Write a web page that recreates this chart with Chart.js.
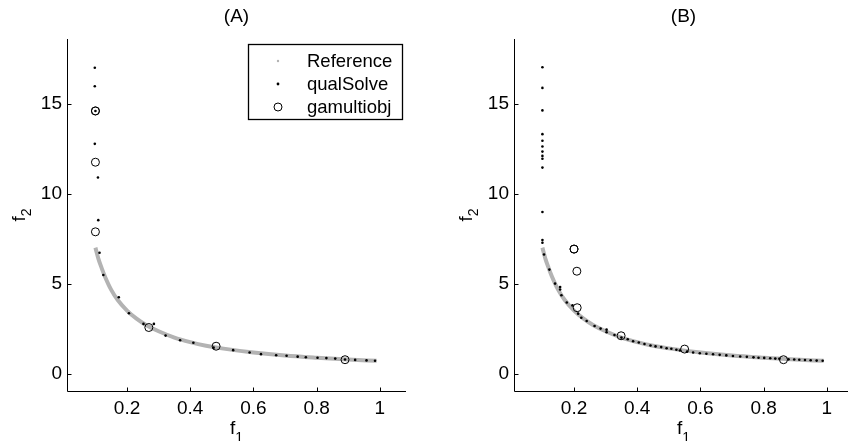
<!DOCTYPE html>
<html>
<head>
<meta charset="utf-8">
<script src="https://cdn.jsdelivr.net/npm/chart.js@4.4.0/dist/chart.umd.min.js"></script>
<style>
  html, body { margin: 0; padding: 0; background: #fff; overflow: hidden; }
  #wrap { position: relative; width: 848px; height: 441px; overflow: hidden; }
  .panel { position: absolute; top: 0; width: 424px; height: 441px; }
</style>
</head>
<body>
<div id="wrap">
  <div class="panel" style="left:0"><canvas id="panelA" width="424" height="441"></canvas></div>
  <div class="panel" style="left:447px"><canvas id="panelB" width="424" height="441"></canvas></div>
</div>
<script>
// true Pareto front (same for both panels)
var refF1 = [0.1, 0.11, 0.12, 0.13, 0.15, 0.17, 0.2, 0.23, 0.26, 0.3, 0.35, 0.4, 0.45, 0.5, 0.6, 0.7, 0.8, 0.9, 0.99];
var refF2 = [7.0, 6.35, 5.85, 5.4, 4.65, 4.1, 3.5, 3.05, 2.7, 2.35, 2.0, 1.75, 1.55, 1.4, 1.17, 1.0, 0.88, 0.78, 0.71];

// panel (A)
var qualA_f1 = [0.098, 0.098, 0.1, 0.098, 0.108, 0.109, 0.113, 0.125, 0.174, 0.206, 0.252, 0.285, 0.322, 0.368, 0.41,
                0.474, 0.536, 0.588, 0.624, 0.672, 0.705, 0.74, 0.766, 0.803, 0.831, 0.859, 0.89, 0.922, 0.958, 0.985];
var qualA_f2 = [17.0, 15.97, 14.6, 12.77, 10.9, 8.53, 6.72, 5.48, 4.24, 3.35, 2.76, 2.76, 2.11, 1.85, 1.71,
                1.44, 1.3, 1.17, 1.08, 1.02, 0.99, 0.94, 0.91, 0.88, 0.86, 0.83, 0.78, 0.76, 0.73, 0.71];
var gaA_f1 = [0.1, 0.1, 0.1, 0.1, 0.269, 0.482, 0.89];
var gaA_f2 = [14.6, 14.6, 11.75, 7.88, 2.56, 1.52, 0.77];

// panel (B)
var qualB_f1 = [0.1, 0.1, 0.1, 0.1, 0.1, 0.1, 0.1, 0.1, 0.1, 0.1, 0.1, 0.1, 0.1,
                0.105, 0.122, 0.14, 0.156, 0.156, 0.16, 0.177, 0.195, 0.213, 0.223, 0.24, 0.265, 0.284, 0.303, 0.303,
                0.328, 0.35, 0.37, 0.387, 0.405, 0.423, 0.442, 0.458, 0.476, 0.493, 0.508, 0.524, 0.535, 0.558, 0.577,
                0.598, 0.619, 0.64, 0.661, 0.682, 0.703, 0.726, 0.747, 0.768, 0.784, 0.802, 0.821, 0.837, 0.85, 0.879,
                0.897, 0.913, 0.931, 0.949, 0.968, 0.987];
var qualB_f2 = [17.03, 15.88, 14.63, 13.31, 12.94, 12.62, 12.34, 12.1, 11.94, 11.45, 8.98, 7.42, 7.27,
                6.62, 5.78, 5.0, 4.81, 4.67, 4.35, 3.95, 3.79, 3.33, 3.1, 2.92, 2.64, 2.5, 2.44, 2.3,
                2.14, 2.0, 1.91, 1.8, 1.73, 1.64, 1.56, 1.51, 1.47, 1.41, 1.38, 1.32, 1.28, 1.22, 1.17,
                1.13, 1.1, 1.07, 1.04, 1.01, 0.98, 0.95, 0.93, 0.9, 0.88, 0.87, 0.85, 0.83, 0.82, 0.79,
                0.78, 0.77, 0.75, 0.74, 0.72, 0.71];
var gaB_f1 = [0.2, 0.2, 0.209, 0.21, 0.349, 0.55, 0.863];
var gaB_f2 = [6.92, 6.92, 5.69, 3.66, 2.1, 1.36, 0.77];

var xTicks = [0.2, 0.4, 0.6, 0.8, 1];
var yTicks = [0, 5, 10, 15];
var seriesNames = ['Reference', 'qualSolve', 'gamultiobj'];

var FONT = "'Liberation Sans', Arial, Helvetica, sans-serif";
var GREY = '#b3b3b3';

function pts(xs, ys) {
  return xs.map(function(x, i) { return { x: x, y: ys[i] }; });
}

// MATLAB-like axes: title, left/bottom spines, inward ticks, f1/f2 labels, boxed legend
var axesPlugin = {
  id: 'matlabAxes',
  afterDraw: function(chart, args, opts) {
    var ctx = chart.ctx, a = chart.chartArea;
    var xs = chart.scales.x, ys = chart.scales.y;
    var L = Math.round(a.left) + 0.5, B = Math.round(a.bottom) + 0.5;
    var midX = (a.left + a.right) / 2;
    ctx.save();
    ctx.strokeStyle = '#000';
    ctx.lineWidth = 1;
    ctx.beginPath();
    ctx.moveTo(L, Math.round(a.top));
    ctx.lineTo(L, B);
    ctx.lineTo(Math.round(a.right), B);
    xTicks.forEach(function(v) {
      var px = Math.round(xs.getPixelForValue(v)) + 0.5;
      ctx.moveTo(px, B); ctx.lineTo(px, B - 4);
    });
    yTicks.forEach(function(v) {
      var py = Math.round(ys.getPixelForValue(v)) + 0.5;
      ctx.moveTo(L, py); ctx.lineTo(L + 4, py);
    });
    ctx.stroke();

    ctx.fillStyle = '#000';
    var big = '19px ' + FONT, small = '14px ' + FONT;

    // panel title, centred over the plot area
    ctx.font = big;
    ctx.textAlign = 'center';
    ctx.textBaseline = 'middle';
    ctx.fillText(opts.title, midX, 17);

    // axis labels with subscripts
    ctx.textBaseline = 'alphabetic';
    ctx.textAlign = 'left';
    ctx.font = big; var wf = ctx.measureText('f').width;
    ctx.font = small; var w1 = ctx.measureText('1').width;
    var cx = midX - (wf + w1) / 2;
    ctx.font = big; ctx.fillText('f', cx, 434);
    ctx.font = small; ctx.fillText('1', cx + wf, 442);

    ctx.save();
    ctx.translate(a.left - 42, (a.top + a.bottom) / 2);
    ctx.rotate(-Math.PI / 2);
    ctx.font = small; var w2 = ctx.measureText('2').width;
    var sx = -(wf + w2) / 2;
    ctx.font = big; ctx.fillText('f', sx, 0);
    ctx.font = small; ctx.fillText('2', sx + wf, 6);
    ctx.restore();

    if (opts.legend) {
      ctx.strokeStyle = '#000';
      ctx.lineWidth = 1.3;
      ctx.strokeRect(248.5, 44.5, 154, 75);
      ctx.font = '18.5px ' + FONT;
      ctx.textBaseline = 'middle';
      var rows = [61, 84, 107];
      seriesNames.forEach(function(name, i) {
        ctx.fillStyle = '#000';
        ctx.fillText(name, 307, rows[i] + 1);
      });
      ctx.fillStyle = GREY;
      ctx.beginPath(); ctx.arc(278, rows[0], 1.2, 0, Math.PI * 2); ctx.fill();
      ctx.fillStyle = '#000';
      ctx.beginPath(); ctx.arc(278, rows[1], 1.4, 0, Math.PI * 2); ctx.fill();
      ctx.lineWidth = 1;
      ctx.beginPath(); ctx.arc(278, rows[2], 4, 0, Math.PI * 2); ctx.stroke();
    }
    ctx.restore();
  }
};

function makePanel(id, title, qx, qy, gx, gy, withLegend) {
  return new Chart(document.getElementById(id), {
    type: 'scatter',
    data: {
      datasets: [
        {
          label: seriesNames[2],
          data: pts(gx, gy),
          pointRadius: 4,
          pointBorderWidth: 1,
          pointBorderColor: '#000',
          pointBackgroundColor: 'rgba(0,0,0,0)',
          order: 0,
        },
        {
          label: seriesNames[1],
          data: pts(qx, qy),
          pointRadius: 1.3,
          pointBorderWidth: 0,
          pointBackgroundColor: '#000',
          order: 1,
        },
        {
          label: seriesNames[0],
          data: pts(refF1, refF2),
          showLine: true,
          cubicInterpolationMode: 'monotone',
          borderColor: GREY,
          borderWidth: 4,
          pointRadius: 0,
          order: 2,
        },
      ],
    },
    options: {
      responsive: false,
      animation: false,
      layout: { padding: { left: 0, right: 18, top: 39, bottom: 0 } },
      scales: {
        x: {
          type: 'linear',
          min: 0.01,
          max: 1.083,
          afterFit: function(s) { s.height = 50; },
          afterBuildTicks: function(s) { s.ticks = xTicks.map(function(v) { return { value: v }; }); },
          grid: { display: false, drawTicks: false },
          border: { display: false },
          ticks: {
            padding: 6,
            color: '#000',
            font: { family: FONT, size: 19 },
            callback: function(v) { return String(v); },
          },
        },
        y: {
          type: 'linear',
          min: -0.97,
          max: 18.6,
          afterFit: function(s) { s.width = 67; },
          afterBuildTicks: function(s) { s.ticks = yTicks.map(function(v) { return { value: v }; }); },
          grid: { display: false, drawTicks: false },
          border: { display: false },
          ticks: {
            padding: 5,
            color: '#000',
            font: { family: FONT, size: 19 },
            callback: function(v) { return String(v); },
          },
        },
      },
      plugins: {
        legend: { display: false },
        tooltip: { enabled: false },
        title: { display: false },
        matlabAxes: { legend: withLegend, title: title },
      },
    },
    plugins: [axesPlugin],
  });
}

window.onload = function() {
  makePanel('panelA', '(A)', qualA_f1, qualA_f2, gaA_f1, gaA_f2, true);
  makePanel('panelB', '(B)', qualB_f1, qualB_f2, gaB_f1, gaB_f2, false);
};
</script>
</body>
</html>
